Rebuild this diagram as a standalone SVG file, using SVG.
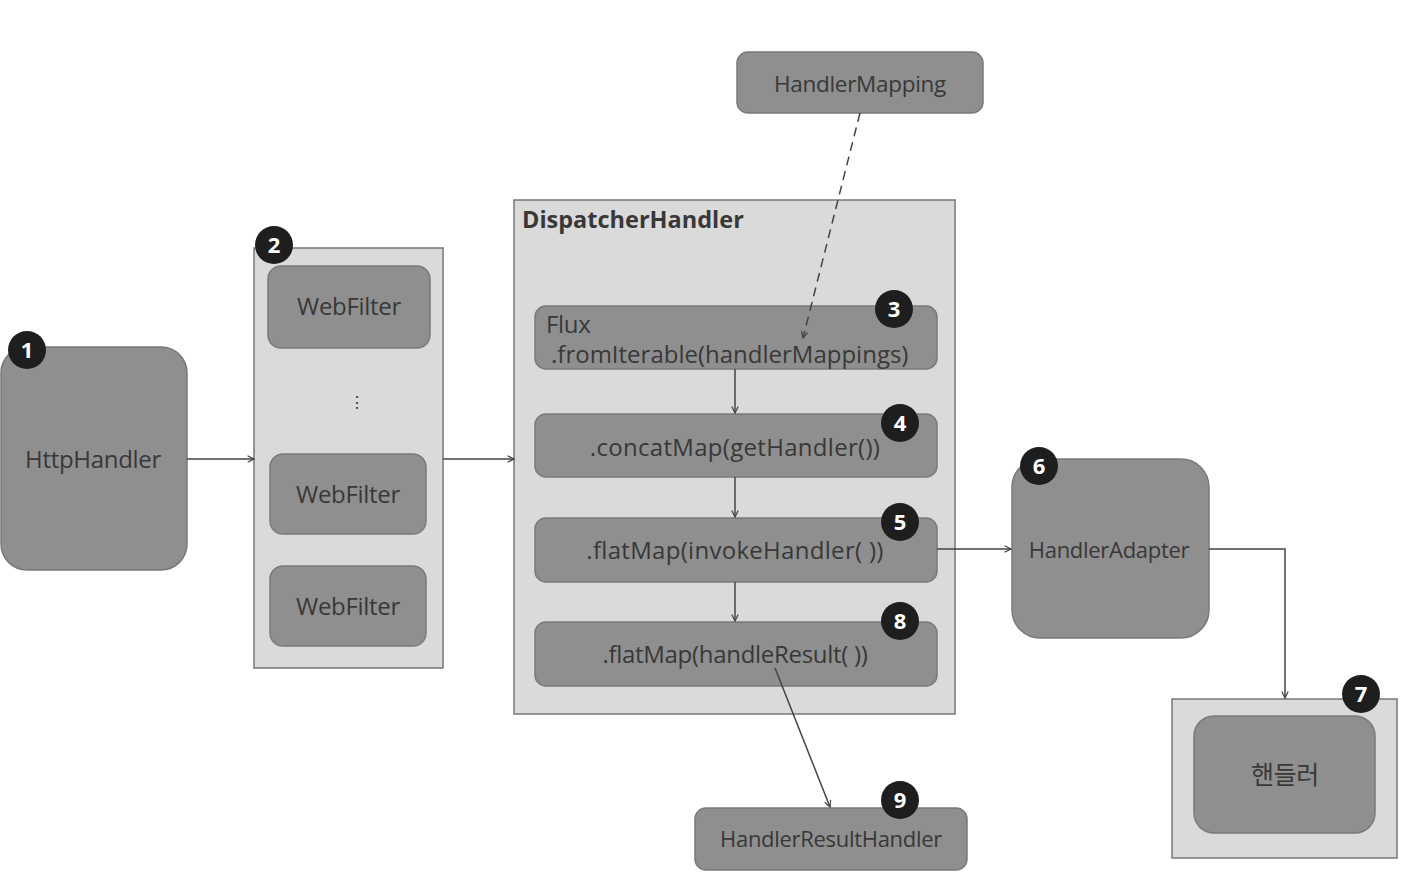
<svg xmlns="http://www.w3.org/2000/svg" width="1421" height="888" viewBox="0 0 1421 888">
<defs>
<style>
.box{fill:#8f8f8f;stroke:#7a7a7a;stroke-width:1.5}
.cont{fill:#dadada;stroke:#777;stroke-width:1.5}
.t{font-family:"Open Sans","Noto Sans",sans-serif;font-size:24px;fill:#383838;text-anchor:middle;letter-spacing:-0.3px}
.tl{font-family:"Open Sans","Noto Sans",sans-serif;font-size:24px;fill:#383838;letter-spacing:-0.3px}
.s{font-size:22px}
.title{font-family:"Open Sans","Noto Sans",sans-serif;font-size:23.5px;font-weight:bold;fill:#383838}
.bd circle{fill:#1e1e1e}
.bd text{font-family:"Open Sans","Noto Sans",sans-serif;font-size:22px;font-weight:bold;fill:#ffffff;text-anchor:middle}
.ln{fill:none;stroke:#444;stroke-width:1.5}
</style>
<marker id="ah" viewBox="0 0 10 10" refX="9" refY="5" markerWidth="8" markerHeight="8" orient="auto" markerUnits="userSpaceOnUse">
<path d="M1,1 L9,5 L1,9" fill="none" stroke="#444" stroke-width="1.5"/>
</marker>
</defs>
<rect width="1421" height="888" fill="#ffffff"/>

<g id="httphandler">
<rect class="box" x="1" y="347" width="186" height="223" rx="26"/>
<text class="t" x="93" y="468">HttpHandler</text>
<g class="bd"><circle cx="27" cy="350" r="19"/><text x="27" y="358">1</text></g>
</g>

<g id="webfilters">
<rect class="cont" x="254" y="248" width="189" height="420"/>
<g id="webfilter1"><rect class="box" x="268" y="266" width="162" height="82" rx="13"/><text class="t" x="349" y="315">WebFilter</text></g>
<text class="t" x="357" y="408" style="font-size:16px">⋮</text>
<g id="webfilter2"><rect class="box" x="270" y="454" width="156" height="80" rx="13"/><text class="t" x="348" y="503">WebFilter</text></g>
<g id="webfilter3"><rect class="box" x="270" y="566" width="156" height="80" rx="13"/><text class="t" x="348" y="615">WebFilter</text></g>
<g class="bd"><circle cx="274" cy="245" r="19"/><text x="274" y="253">2</text></g>
</g>

<g id="dispatcher">
<rect class="cont" x="514" y="200" width="441" height="514"/>
<text class="title" x="522" y="228">DispatcherHandler</text>
<g id="flux">
<rect class="box" x="535" y="306" width="402" height="63" rx="11"/>
<text class="tl" x="546" y="333">Flux</text>
<text class="tl" x="551" y="363" style="letter-spacing:0">.fromIterable(handlerMappings)</text>
<g class="bd"><circle cx="894" cy="309" r="19"/><text x="894" y="317">3</text></g>
</g>
<g id="concatmap">
<rect class="box" x="535" y="414" width="402" height="63" rx="11"/>
<text class="t" x="735" y="456" style="letter-spacing:0.3px">.concatMap(getHandler())</text>
<g class="bd"><circle cx="900" cy="423" r="19"/><text x="900" y="431">4</text></g>
</g>
<g id="invoke">
<rect class="box" x="535" y="518" width="402" height="64" rx="11"/>
<text class="t" x="735" y="559" style="letter-spacing:0.3px">.flatMap(invokeHandler( ))</text>
<g class="bd"><circle cx="900" cy="522" r="19"/><text x="900" y="530">5</text></g>
</g>
<g id="handleresult">
<rect class="box" x="535" y="622" width="402" height="64" rx="11"/>
<text class="t" x="735" y="663">.flatMap(handleResult( ))</text>
<g class="bd"><circle cx="900" cy="621" r="19"/><text x="900" y="629">8</text></g>
</g>
</g>

<g id="handlermapping">
<rect class="box" x="737" y="52" width="246" height="61" rx="11"/>
<text class="t" x="860" y="92" style="font-size:22.5px">HandlerMapping</text>
</g>

<g id="handleradapter">
<rect class="box" x="1012" y="459" width="197" height="179" rx="28"/>
<text class="t s" x="1109" y="558">HandlerAdapter</text>
<g class="bd"><circle cx="1039" cy="466" r="19"/><text x="1039" y="474">6</text></g>
</g>

<g id="handler">
<rect class="cont" x="1172" y="699" width="225" height="159"/>
<rect class="box" x="1194" y="716" width="181" height="117" rx="20"/>
<text class="t" x="1285" y="784" style="font-family:'Noto Sans CJK KR',sans-serif;font-size:25px">핸들러</text>
<g class="bd"><circle cx="1361" cy="694" r="19"/><text x="1361" y="702">7</text></g>
</g>

<g id="resulthandler">
<rect class="box" x="695" y="808" width="272" height="62" rx="11"/>
<text class="t s" x="831" y="847">HandlerResultHandler</text>
<g class="bd"><circle cx="900" cy="800" r="19"/><text x="900" y="808">9</text></g>
</g>

<g id="connectors">
<line class="ln" x1="187" y1="459" x2="254" y2="459" marker-end="url(#ah)"/>
<line class="ln" x1="443" y1="459" x2="514" y2="459" marker-end="url(#ah)"/>
<line class="ln" x1="860" y1="113" x2="803" y2="338" stroke-dasharray="9,6" marker-end="url(#ah)"/>
<line class="ln" x1="735" y1="369" x2="735" y2="413" marker-end="url(#ah)"/>
<line class="ln" x1="735" y1="477" x2="735" y2="517" marker-end="url(#ah)"/>
<line class="ln" x1="735" y1="582" x2="735" y2="621" marker-end="url(#ah)"/>
<line class="ln" x1="937" y1="549" x2="1011" y2="549" marker-end="url(#ah)"/>
<polyline class="ln" points="1209,549 1285,549 1285,698" marker-end="url(#ah)"/>
<line class="ln" x1="775" y1="668" x2="830" y2="807" marker-end="url(#ah)"/>
</g>
</svg>
